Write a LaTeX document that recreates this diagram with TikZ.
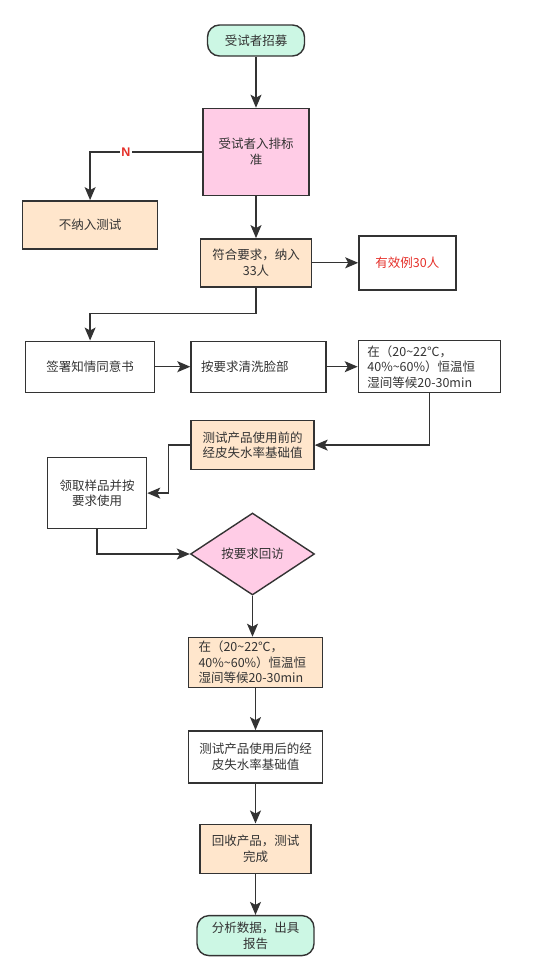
\documentclass[tikz,border=0pt]{standalone}
\usepackage{fontspec}
\setmainfont{Noto Sans CJK SC}
\newfontfamily\latinsans{Liberation Sans}
\usetikzlibrary{arrows.meta, positioning, shapes.geometric}
\definecolor{menta}{HTML}{CCF7E4}
\definecolor{rosa}{HTML}{FFCCE6}
\definecolor{durazno}{HTML}{FFE6CC}
\definecolor{tinta}{HTML}{333333}
\definecolor{rojo}{HTML}{E5302A}

\begin{document}
\begin{tikzpicture}[
        node distance=40pt,
        font=\fontsize{12.5pt}{15.5pt}\selectfont,
        caja/.style={draw=tinta, line width=1.4pt, align=center, inner sep=2pt, text=tinta},
        extremo/.style={caja, rounded corners=12pt, fill=menta},
        rombo/.style={caja, diamond, fill=rosa, inner sep=0pt},
        flecha/.style={-{Stealth[length=13pt, width=11pt, inset=3pt]}, line width=1.3pt, draw=tinta}
    ]
        \useasboundingbox (0,0) rectangle (534pt,-967pt);
        \node[extremo, minimum width=97pt, minimum height=31pt] (reclut) at (256pt,-40.5pt) {受试者招募};
        \node[caja, fill=rosa, minimum width=106pt, minimum height=87pt, below=51pt of reclut] (criterio) {受试者入排标\\准};
        \node[caja, fill=durazno, minimum width=135pt, minimum height=48pt, below left=4pt and 44pt of criterio] (excluir) {不纳入测试};
        \node[caja, fill=durazno, minimum width=111pt, minimum height=48pt, below=42pt of criterio] (incluir) {符合要求，纳入\\33人};
        \node[caja, text=rojo, minimum width=97pt, minimum height=54pt, right=46pt of incluir] (validos) {有效例30人};
        \node[caja, minimum width=129pt, minimum height=51pt, below=91pt of excluir] (firma) {签署知情同意书};
        \node[caja, text width=115pt, inner xsep=10pt, align=left, minimum height=51pt, right=35pt of firma] (lavado) {按要求清洗脸部};
        \node[caja, text width=124pt, inner xsep=9pt, align=left, minimum height=52pt, right=31pt of lavado] (espera) {在（20\textasciitilde 22℃，\\40\%\textasciitilde 60\%）恒温恒\\湿间等候20-30min};
        \node[caja, fill=durazno, minimum width=123pt, minimum height=49pt, below=27pt of lavado, xshift=-6pt] (antes) {测试产品使用前的\\经皮失水率基础值};
        \node[caja, minimum width=99pt, minimum height=71pt, below=64pt of firma, xshift=7pt] (muestra) {领取样品并按\\要求使用};
        \node[rombo, minimum width=124pt, minimum height=82pt, below=42pt of antes] (visita) {按要求回访};
        \node[caja, fill=durazno, text width=114pt, inner xsep=10pt, align=left, minimum height=50pt, below=41pt of visita, xshift=3pt] (espera2) {在（20\textasciitilde 22℃，\\40\%\textasciitilde 60\%）恒温恒\\湿间等候20-30min};
        \node[caja, minimum width=134pt, minimum height=52pt, below=42pt of espera2] (despues) {测试产品使用后的经\\皮失水率基础值};
        \node[caja, fill=durazno, minimum width=111pt, minimum height=49pt, below=40pt of despues] (recogida) {回收产品，测试\\完成};
        \node[extremo, minimum width=117pt, minimum height=40pt, below=41pt of recogida] (informe) {分析数据，出具\\报告};
        \draw[flecha] (reclut) -- (criterio);
        \draw[flecha] (criterio.west) -| node[pos=0.34, fill=white, text=rojo, inner sep=1pt, font=\latinsans\bfseries\fontsize{12.5pt}{14pt}\selectfont] (no) {N} (excluir.north);
        \draw[flecha] (criterio) -- (incluir);
        \draw[flecha] (incluir) -- (validos);
        \draw[flecha] (incluir.south) -- ++(0,-26pt) -| (firma.north);
        \draw[flecha] (firma) -- (lavado);
        \draw[flecha] (lavado) -- (espera);
        \draw[flecha] (espera.south) |- (antes.east);
        \draw[flecha] (antes.west) -- ++(-22pt,0) |- (muestra.east);
        \draw[flecha] (muestra.south) |- (visita.west);
        \draw[flecha] (visita.south) -- (visita.south |- espera2.north);
        \draw[flecha] (espera2) -- (despues);
        \draw[flecha] (despues) -- (recogida);
        \draw[flecha] (recogida) -- (informe);
    \end{tikzpicture}
\end{document}
